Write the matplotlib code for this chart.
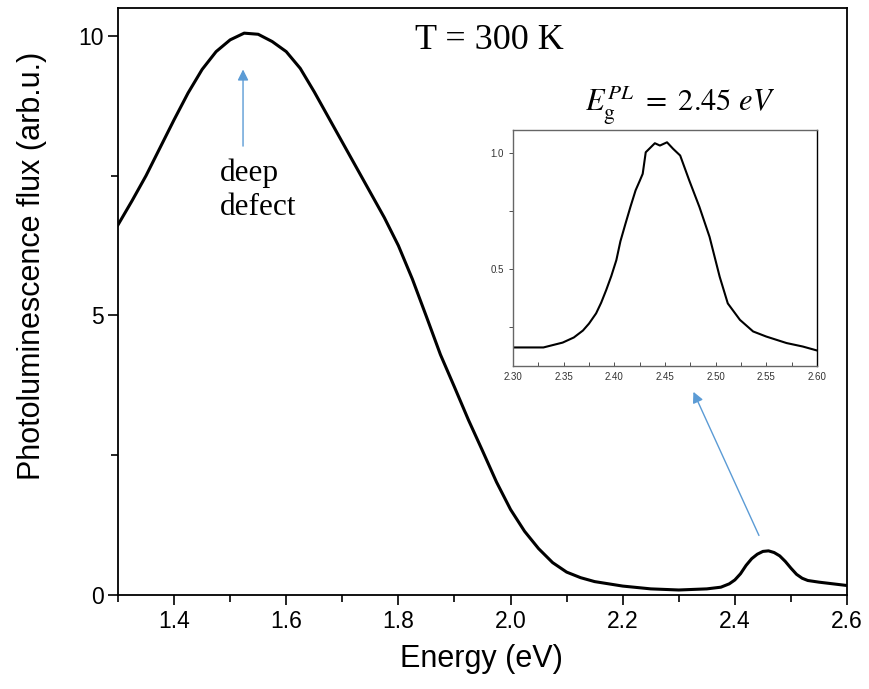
import numpy as np
import matplotlib.pyplot as plt
from matplotlib.ticker import MultipleLocator

# main spectrum
energy = [1.30, 1.325, 1.35, 1.375, 1.40, 1.425, 1.45, 1.475, 1.50, 1.525,
          1.55, 1.575, 1.60, 1.625, 1.65, 1.675, 1.70, 1.725, 1.75, 1.775,
          1.80, 1.825, 1.85, 1.875, 1.90, 1.925, 1.95, 1.975, 2.00, 2.025,
          2.05, 2.075, 2.10, 2.125, 2.15, 2.175, 2.20, 2.25, 2.30, 2.35,
          2.375, 2.39, 2.40, 2.41, 2.42, 2.43, 2.44, 2.45, 2.46, 2.47,
          2.48, 2.49, 2.50, 2.51, 2.52, 2.53, 2.55, 2.575, 2.60]
flux = [6.62, 7.05, 7.5, 8.0, 8.5, 8.98, 9.4, 9.72, 9.93, 10.05,
        10.03, 9.9, 9.72, 9.42, 9.0, 8.55, 8.1, 7.65, 7.2, 6.75,
        6.25, 5.65, 4.98, 4.3, 3.72, 3.13, 2.58, 2.02, 1.53, 1.14,
        0.83, 0.58, 0.41, 0.31, 0.24, 0.20, 0.16, 0.11, 0.09, 0.11,
        0.14, 0.2, 0.27, 0.38, 0.53, 0.65, 0.73, 0.78, 0.79, 0.76,
        0.70, 0.60, 0.48, 0.37, 0.30, 0.26, 0.23, 0.20, 0.17]

# inset: band-edge peak
inset_e = [2.30, 2.33, 2.349, 2.36, 2.369, 2.375, 2.382, 2.387, 2.392, 2.397,
           2.402, 2.406, 2.411, 2.416, 2.421, 2.425, 2.428, 2.431, 2.44, 2.445,
           2.452, 2.458, 2.465, 2.474, 2.484, 2.494, 2.504, 2.512, 2.524, 2.537,
           2.55, 2.57, 2.586, 2.60]
inset_f = [0.162, 0.162, 0.183, 0.205, 0.235, 0.265, 0.309, 0.355, 0.410, 0.47,
           0.539, 0.62, 0.696, 0.77, 0.840, 0.88, 0.911, 1.004, 1.043, 1.033,
           1.047, 1.019, 0.990, 0.882, 0.768, 0.639, 0.467, 0.352, 0.281, 0.231,
           0.209, 0.181, 0.166, 0.149]

arrow_col = '#5B9BD5'
sans = ['Liberation Sans', 'DejaVu Sans']

plt.rcParams['mathtext.fontset'] = 'stix'

fig = plt.figure(figsize=(8.7, 6.89), dpi=100)
ax = fig.add_axes([0.1356, 0.1364, 0.838, 0.852])
ax.plot(energy, flux, color='black', lw=2.2)
ax.set_xlim(1.3, 2.6)
ax.set_ylim(0, 10.5)
ax.xaxis.set_minor_locator(MultipleLocator(0.1))
ax.yaxis.set_minor_locator(MultipleLocator(2.5))
ax.set_xticks([1.4, 1.6, 1.8, 2.0, 2.2, 2.4, 2.6])
ax.set_xticklabels(['1.4', '1.6', '1.8', '2.0', '2.2', '2.4', '2.6'], family=sans)
ax.set_yticks([0, 5, 10])
ax.set_yticklabels(['0', '5', '10'], family=sans)
ax.tick_params(which='both', direction='out', width=1.2)
ax.tick_params(which='major', length=7, labelsize=16.5)
ax.tick_params(which='minor', length=5)
for s in ax.spines.values():
    s.set_linewidth(1.3)
ax.set_xlabel('Energy (eV)', fontsize=22, family=sans)
ax.set_ylabel('Photoluminescence flux (arb.u.)', fontsize=22, family=sans)
ax.xaxis.set_label_coords(0.499, -0.083)
ax.yaxis.set_label_coords(-0.097, 0.561)

ax.text(0.51, 0.945, 'T = 300 K', transform=ax.transAxes, ha='center', va='center',
        fontsize=26, family='Liberation Serif')
ax.text(1.482, 7.24, 'deep\ndefect', ha='left', va='center', fontsize=22.5,
        family='Liberation Serif', linespacing=1.25)

# arrows
ax.annotate('', xy=(1.523, 9.45), xytext=(1.523, 7.98),
            arrowprops=dict(arrowstyle='-|>', color=arrow_col, lw=1.0,
                            mutation_scale=16))
ax.annotate('', xy=(2.324, 3.68), xytext=(2.445, 1.02),
            arrowprops=dict(arrowstyle='-|>', color=arrow_col, lw=1.0,
                            mutation_scale=16))

# inset
ins = fig.add_axes([0.5897, 0.4688, 0.3493, 0.3425])
ins.plot(inset_e, inset_f, color='black', lw=1.5)
ins.set_xlim(2.30, 2.60)
ins.set_ylim(0.082, 1.10)
ins.xaxis.set_minor_locator(MultipleLocator(0.025))
ins.yaxis.set_minor_locator(MultipleLocator(0.25))
ins.set_xticks([2.30, 2.35, 2.40, 2.45, 2.50, 2.55, 2.60])
ins.set_xticklabels(['2.30', '2.35', '2.40', '2.45', '2.50', '2.55', '2.60'], family=sans)
ins.set_yticks([0.5, 1.0])
ins.set_yticklabels(['0.5', '1.0'], family=sans)
ins.tick_params(axis='x', which='both', direction='in', labelsize=7, colors='#333333',
                length=3, width=0.6, pad=4)
ins.tick_params(axis='y', which='both', direction='out', labelsize=7, colors='#333333',
                length=3, width=0.6)
for s in ['left', 'top', 'bottom']:
    ins.spines[s].set_color('#666666')
ins.spines['right'].set_color('black')
for s in ins.spines.values():
    s.set_linewidth(1.0)

fig.text(0.7816, 0.8476, r'$E_{\mathrm{g}}^{PL}\ =\ 2.45\ eV$', ha='center', va='center',
         fontsize=22)

plt.savefig('out.png', dpi=100)
